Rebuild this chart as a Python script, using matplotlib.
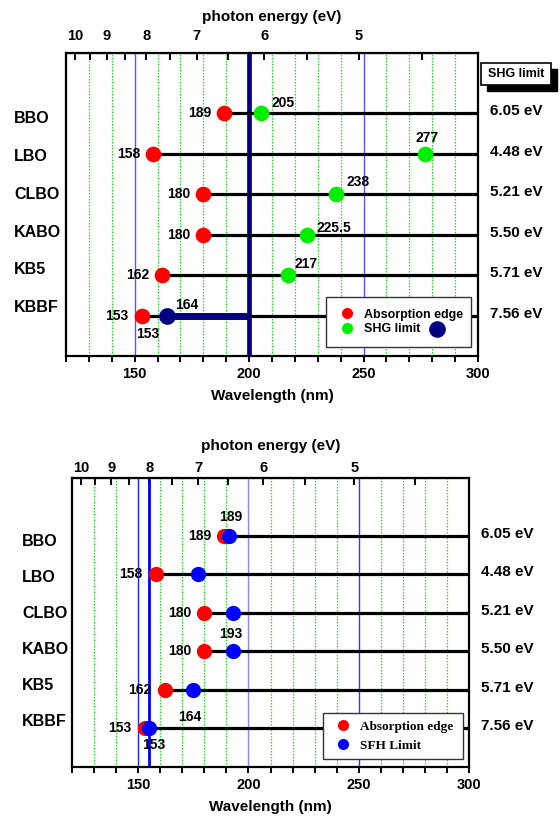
import numpy as np
import matplotlib
matplotlib.use('Agg')
import matplotlib.pyplot as plt
from matplotlib.lines import Line2D
from matplotlib.patches import Rectangle
from matplotlib.ticker import MultipleLocator, FixedLocator
import matplotlib.transforms as mtrans

plt.rcParams['font.family'] = ['Liberation Sans', 'DejaVu Sans']
plt.rcParams['font.weight'] = 'bold'

# data
materials = ['BBO', 'LBO', 'CLBO', 'KABO', 'KB5', 'KBBF']
abs_edge = [189, 158, 180, 180, 162, 153]          # absorption edge (nm)
shg_limit = [205, 277, 238, 225.5, 217, 164]       # SHG limit (nm)
sfh_limit = [191, 177, 193, 193, 175, 155]         # SFH limit (nm), lower panel
shg_energy = ['6.05 eV', '4.48 eV', '5.21 eV', '5.50 eV', '5.71 eV', '7.56 eV']
energy_ticks = [10, 9, 8, 7, 6, 5]
energy_minor = [9.5, 8.5, 7.5, 6.5, 5.5, 4.5]
wl_ticks = [150, 200, 250, 300]
wl_min, wl_max = 120, 300
shg_line = 200
sfh_line = 155

rows = np.arange(len(materials), 0, -1)

RED = '#ff0000'
GREEN = '#00ee00'
NAVY = '#000080'
BLUE = '#0000ff'


def ev(x):
    x = np.asarray(x, dtype=float)
    with np.errstate(divide='ignore'):
        return 1240.0 / x


def num(v):
    return f'{v:g}'


def note(ax, text, x, y, dx, dy, ha='center'):
    ax.annotate(text, (x, y), xytext=(dx, dy), textcoords='offset pixels',
                ha=ha, va='center', fontsize=10, fontweight='bold', zorder=7)


def setup(ax, label_y, tick_pad_top, title_pad, vlines):
    ax.set_xlim(wl_min, wl_max)
    ax.set_ylim(0, 7.5)
    ax.set_yticks([])
    ax.set_xticks(wl_ticks)
    ax.xaxis.set_minor_locator(MultipleLocator(10))
    ax.tick_params(axis='x', which='both', direction='out', length=4, width=1.4,
                   labelsize=10.5, pad=4)
    ax.set_xlabel('Wavelength (nm)', fontsize=11, fontweight='bold', labelpad=6)
    for s in ax.spines.values():
        s.set_linewidth(1.6)

    # dotted green grid every 10 nm, blue lines on the round values
    for w in range(130, wl_max, 10):
        if w % 50:
            ax.axvline(w, color='#22dd22', ls=(0, (1.2, 1.2)), lw=0.9, zorder=0)
    for w, c, lw in vlines:
        ax.axvline(w, color=c, lw=lw, zorder=1)

    sec = ax.secondary_xaxis('top', functions=(ev, ev))
    sec.set_xticks(energy_ticks)
    sec.xaxis.set_minor_locator(FixedLocator(energy_minor))
    sec.tick_params(axis='x', which='both', direction='in', length=5, width=1.4,
                    labelsize=10.5, pad=tick_pad_top)
    sec.set_xlabel('photon energy (eV)', fontsize=11, fontweight='bold',
                   labelpad=title_pad)

    trans = mtrans.blended_transform_factory(ax.transAxes, ax.transData)
    for name, yl in zip(materials, label_y):
        ax.text(-0.126, yl, name, transform=trans, ha='left', va='center',
                fontsize=11.5, fontweight='bold')
    for r, lab in zip(rows, shg_energy):
        ax.annotate(lab, (1, r), xycoords=('axes fraction', 'data'),
                    xytext=(12, 2), textcoords='offset pixels', ha='left',
                    va='center', fontsize=11, fontweight='bold',
                    annotation_clip=False)

    ax.hlines(rows, abs_edge, wl_max, color='k', lw=2.3, zorder=2)


fig = plt.figure(figsize=(5.6, 8.18), dpi=100)
ax1 = fig.add_axes([66 / 560, 1 - 356 / 818, 412 / 560, 303.3 / 818])
ax2 = fig.add_axes([72 / 560, 1 - 767 / 818, 397 / 560, 289 / 818])

# ---- upper panel: SHG ----
setup(ax1, np.linspace(5.88, 1.19, 6), 7, 6,
      [(150, '#5555ff', 1.0), (250, '#5555ff', 1.0), (shg_line, NAVY, 3.4)])
ax1.plot([shg_limit[5], shg_line], [rows[5], rows[5]], color=NAVY, lw=5,
         solid_capstyle='butt', zorder=3)
ax1.plot(abs_edge, rows, 'o', color=RED, ms=11.3, mew=0, zorder=4)
ax1.plot(shg_limit[:5], rows[:5], 'o', color=GREEN, ms=11.3, mew=0, zorder=4)
ax1.plot(shg_limit[5], rows[5], 'o', color=NAVY, ms=12, mew=0, zorder=4)

for x, r in zip(abs_edge, rows):
    note(ax1, num(x), x, r, -13, 0, ha='right')
note(ax1, num(shg_limit[0]), shg_limit[0], rows[0], 11, 10, ha='left')
note(ax1, num(shg_limit[1]), shg_limit[1], rows[1], 2, 16)
note(ax1, num(shg_limit[2]), shg_limit[2], rows[2], 10, 12, ha='left')
note(ax1, num(shg_limit[3]), shg_limit[3], rows[3], 9, 7, ha='left')
note(ax1, num(shg_limit[4]), shg_limit[4], rows[4], 6, 11, ha='left')
note(ax1, num(shg_limit[5]), shg_limit[5], rows[5], 8, 11, ha='left')
note(ax1, num(abs_edge[5]), abs_edge[5], rows[5], 6, -18)

h1 = [Line2D([], [], marker='o', ls='none', color=RED, ms=8, mew=0),
      Line2D([], [], marker='o', ls='none', color=GREEN, ms=8, mew=0)]
leg1 = ax1.legend(h1, ['Absorption edge', 'SHG limit'], loc='lower left',
                  bbox_to_anchor=(0.631, 0.03, 0.352, 0.18), mode='expand',
                  borderaxespad=0, fancybox=False, framealpha=1,
                  edgecolor='#333333', prop={'weight': 'bold', 'size': 9},
                  borderpad=0.95, handlelength=1.4, handletextpad=0.7,
                  labelspacing=0.18)
leg1.get_frame().set_linewidth(1.0)
ax1.plot([0.9], [0.089], 'o', color=NAVY, ms=12, mew=0, transform=ax1.transAxes,
         clip_on=False, zorder=6)

# "SHG limit" box with drop shadow
fig.patches.append(Rectangle((487 / 560, 1 - 91 / 818), 70 / 560, 22 / 818,
                             transform=fig.transFigure, facecolor='k',
                             edgecolor='k', zorder=1))
fig.patches.append(Rectangle((481 / 560, 1 - 85 / 818), 70 / 560, 22 / 818,
                             transform=fig.transFigure, facecolor='white',
                             edgecolor='k', lw=1.2, zorder=2))
fig.text(516 / 560, 1 - 74 / 818, 'SHG limit', ha='center', va='center',
         fontsize=9, fontweight='bold', zorder=3)

# ---- lower panel: SFH ----
setup(ax2, np.linspace(5.86, 1.17, 6), 2, 8,
      [(150, '#2222ff', 1.0), (200, '#8888ee', 1.0), (250, '#3333ff', 1.0),
       (sfh_line, BLUE, 2.0)])
ax2.plot(abs_edge, rows, 'o', color=RED, ms=11, mew=0, zorder=4)
ax2.plot(sfh_limit, rows, 'o', color=BLUE, ms=11, mew=0, zorder=4)

for x, r in zip(abs_edge, rows):
    note(ax2, num(x), x, r, -13, 0, ha='right')
note(ax2, '189', sfh_limit[0], rows[0], 2, 19)
note(ax2, '193', sfh_limit[3], rows[3], -2, 17)
note(ax2, num(abs_edge[5]), abs_edge[5], rows[5], 9, -17)
note(ax2, num(shg_limit[5]), shg_limit[5], rows[5], 9, 11, ha='left')

h2 = [Line2D([], [], marker='o', ls='none', color=RED, ms=8, mew=0),
      Line2D([], [], marker='o', ls='none', color=BLUE, ms=8, mew=0)]
leg2 = ax2.legend(h2, ['Absorption edge', 'SFH Limit'], loc='lower left',
                  bbox_to_anchor=(0.632, 0.028, 0.353, 0.18), mode='expand',
                  borderaxespad=0, fancybox=False, framealpha=1,
                  edgecolor='#333333',
                  prop={'family': 'Liberation Serif', 'weight': 'bold', 'size': 9.5},
                  borderpad=0.56, handlelength=1.9, handletextpad=0.35,
                  labelspacing=0.5)
leg2.get_frame().set_linewidth(1.0)

fig.savefig('out.png', dpi=100)
